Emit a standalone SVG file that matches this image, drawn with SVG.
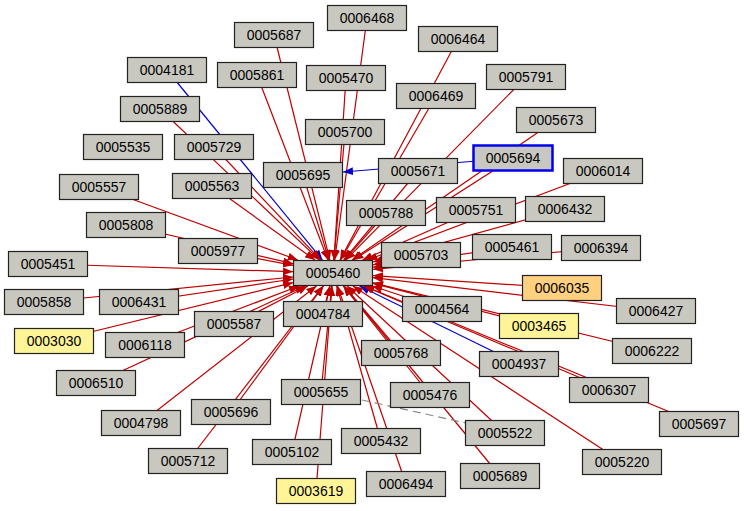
<svg xmlns="http://www.w3.org/2000/svg" width="744" height="511" viewBox="0 0 744 511">
<style>
.n rect{fill:#c8c8c0;stroke:#222;stroke-width:1.2}
.n text{font-family:"Liberation Sans",Arial,sans-serif;font-size:14px;text-anchor:middle;fill:#000}
.e line{stroke:#c00000;stroke-width:1.2;marker-end:url(#ar)}
.e line.b{stroke:#0000cc;marker-end:url(#ab)}
.e line.d{stroke:#888;stroke-dasharray:8,5;marker-end:none}
</style>
<defs>
<marker id="ar" markerWidth="10" markerHeight="8" refX="10" refY="4" orient="auto" markerUnits="userSpaceOnUse"><path d="M0,0L10,4L0,8z" fill="#c00000"/></marker>
<marker id="ab" markerWidth="10" markerHeight="8" refX="10" refY="4" orient="auto" markerUnits="userSpaceOnUse"><path d="M0,0L10,4L0,8z" fill="#0000cc"/></marker>
</defs>
<rect width="744" height="511" fill="#fff"/>
<g class="e" id="edges">
<line x1="367" y1="18" x2="334.7" y2="260"/>
<line x1="274" y1="35" x2="329.8" y2="260"/>
<line x1="458" y1="39" x2="340" y2="260"/>
<line class="b" x1="167" y1="70" x2="322.4" y2="260"/>
<line x1="257" y1="75" x2="328" y2="260"/>
<line x1="346" y1="78" x2="333.9" y2="260"/>
<line x1="526" y1="77" x2="345.8" y2="260"/>
<line x1="436" y1="96" x2="340.6" y2="260"/>
<line x1="160" y1="109" x2="319.3" y2="260"/>
<line x1="556" y1="120" x2="352" y2="260"/>
<line x1="345" y1="132" x2="334" y2="260"/>
<line x1="214" y1="147" x2="320.7" y2="260"/>
<line x1="513" y1="158" x2="353.3" y2="260"/>
<line x1="603" y1="171" x2="367.4" y2="260"/>
<line x1="303" y1="175" x2="329" y2="260"/>
<line x1="418" y1="171" x2="343.8" y2="260"/>
<line x1="212" y1="186" x2="315" y2="260"/>
<line x1="99" y1="187" x2="297.7" y2="260"/>
<line x1="386" y1="213" x2="344.5" y2="260"/>
<line x1="476" y1="210" x2="362.5" y2="260"/>
<line x1="565" y1="209" x2="373" y2="262"/>
<line x1="126" y1="225" x2="293" y2="263.7"/>
<line x1="218" y1="251" x2="293" y2="265.3"/>
<line x1="512" y1="247" x2="373" y2="267.2"/>
<line x1="601" y1="248" x2="373" y2="269.3"/>
<line x1="421" y1="255" x2="373" y2="264.8"/>
<line x1="48" y1="264" x2="293" y2="271.7"/>
<line x1="562" y1="288" x2="373" y2="275.6"/>
<line x1="44" y1="302" x2="293" y2="277"/>
<line x1="139" y1="302" x2="293" y2="279"/>
<line x1="656" y1="311" x2="373" y2="277.7"/>
<line x1="442" y1="309" x2="372.3" y2="286"/>
<line x1="323" y1="314" x2="329.8" y2="286"/>
<line x1="234" y1="324" x2="307.8" y2="286"/>
<line x1="539" y1="326" x2="373" y2="283.3"/>
<line x1="54" y1="341" x2="293" y2="282.7"/>
<line x1="145" y1="345" x2="299" y2="286"/>
<line x1="652" y1="351" x2="373" y2="282.8"/>
<line x1="401" y1="353" x2="344" y2="286"/>
<line class="b" x1="519" y1="364" x2="359.6" y2="286"/>
<line x1="96" y1="383" x2="305" y2="286"/>
<line x1="609" y1="390" x2="363.6" y2="286"/>
<line x1="321" y1="392" x2="331.7" y2="286"/>
<line x1="430" y1="395" x2="343.3" y2="286"/>
<line x1="141" y1="423" x2="316.4" y2="286"/>
<line x1="231" y1="412" x2="323.5" y2="286"/>
<line x1="699" y1="424" x2="364.5" y2="286"/>
<line x1="505" y1="433" x2="347" y2="286"/>
<line x1="381" y1="441" x2="336.7" y2="286"/>
<line x1="292" y1="452" x2="330" y2="286"/>
<line x1="622" y1="462" x2="352.9" y2="286"/>
<line x1="188" y1="461" x2="323" y2="286"/>
<line x1="316" y1="491" x2="332" y2="286"/>
<line x1="406" y1="484" x2="337.5" y2="286"/>
<line x1="500" y1="476" x2="343.7" y2="286"/>
<line class="b" x1="513" y1="158" x2="343" y2="172"/>
<line class="d" x1="362" y1="400" x2="466" y2="423"/>
</g>
<g class="n" id="n0006468" transform="translate(367,18)"><rect x="-39.5" y="-12.5" width="79" height="25"/><text y="5">0006468</text></g>
<g class="n" id="n0005687" transform="translate(274,35)"><rect x="-39.5" y="-12.5" width="79" height="25"/><text y="5">0005687</text></g>
<g class="n" id="n0006464" transform="translate(458,39)"><rect x="-39.5" y="-12.5" width="79" height="25"/><text y="5">0006464</text></g>
<g class="n" id="n0004181" transform="translate(167,70)"><rect x="-39.5" y="-12.5" width="79" height="25"/><text y="5">0004181</text></g>
<g class="n" id="n0005861" transform="translate(257,75)"><rect x="-39.5" y="-12.5" width="79" height="25"/><text y="5">0005861</text></g>
<g class="n" id="n0005470" transform="translate(346,78)"><rect x="-39.5" y="-12.5" width="79" height="25"/><text y="5">0005470</text></g>
<g class="n" id="n0005791" transform="translate(526,77)"><rect x="-39.5" y="-12.5" width="79" height="25"/><text y="5">0005791</text></g>
<g class="n" id="n0006469" transform="translate(436,96)"><rect x="-39.5" y="-12.5" width="79" height="25"/><text y="5">0006469</text></g>
<g class="n" id="n0005889" transform="translate(160,109)"><rect x="-39.5" y="-12.5" width="79" height="25"/><text y="5">0005889</text></g>
<g class="n" id="n0005673" transform="translate(556,120)"><rect x="-39.5" y="-12.5" width="79" height="25"/><text y="5">0005673</text></g>
<g class="n" id="n0005700" transform="translate(345,132)"><rect x="-39.5" y="-12.5" width="79" height="25"/><text y="5">0005700</text></g>
<g class="n" id="n0005535" transform="translate(123,147)"><rect x="-39.5" y="-12.5" width="79" height="25"/><text y="5">0005535</text></g>
<g class="n" id="n0005729" transform="translate(214,147)"><rect x="-39.5" y="-12.5" width="79" height="25"/><text y="5">0005729</text></g>
<g class="n" id="n0006014" transform="translate(603,171)"><rect x="-39.5" y="-12.5" width="79" height="25"/><text y="5">0006014</text></g>
<g class="n" id="n0005671" transform="translate(418,171)"><rect x="-39.5" y="-12.5" width="79" height="25"/><text y="5">0005671</text></g>
<g class="n" id="n0005695" transform="translate(303,175)"><rect x="-39.5" y="-12.5" width="79" height="25"/><text y="5">0005695</text></g>
<g class="n" id="n0005694" transform="translate(513,158)"><rect x="-39.5" y="-12.5" width="79" height="25" style="stroke:#0000ee;stroke-width:2.5"/><text y="5">0005694</text></g>
<g class="n" id="n0005557" transform="translate(99,187)"><rect x="-39.5" y="-12.5" width="79" height="25"/><text y="5">0005557</text></g>
<g class="n" id="n0005563" transform="translate(212,186)"><rect x="-39.5" y="-12.5" width="79" height="25"/><text y="5">0005563</text></g>
<g class="n" id="n0005788" transform="translate(386,213)"><rect x="-39.5" y="-12.5" width="79" height="25"/><text y="5">0005788</text></g>
<g class="n" id="n0005751" transform="translate(476,210)"><rect x="-39.5" y="-12.5" width="79" height="25"/><text y="5">0005751</text></g>
<g class="n" id="n0006432" transform="translate(565,209)"><rect x="-39.5" y="-12.5" width="79" height="25"/><text y="5">0006432</text></g>
<g class="n" id="n0005808" transform="translate(126,225)"><rect x="-39.5" y="-12.5" width="79" height="25"/><text y="5">0005808</text></g>
<g class="n" id="n0005977" transform="translate(218,251)"><rect x="-39.5" y="-12.5" width="79" height="25"/><text y="5">0005977</text></g>
<g class="n" id="n0005461" transform="translate(512,247)"><rect x="-39.5" y="-12.5" width="79" height="25"/><text y="5">0005461</text></g>
<g class="n" id="n0006394" transform="translate(601,248)"><rect x="-39.5" y="-12.5" width="79" height="25"/><text y="5">0006394</text></g>
<g class="n" id="n0005703" transform="translate(421,255)"><rect x="-39.5" y="-12.5" width="79" height="25"/><text y="5">0005703</text></g>
<g class="n" id="n0005451" transform="translate(48,264)"><rect x="-39.5" y="-12.5" width="79" height="25"/><text y="5">0005451</text></g>
<g class="n" id="n0006035" transform="translate(562,288)"><rect x="-39.5" y="-12.5" width="79" height="25" style="fill:#ffd080"/><text y="5">0006035</text></g>
<g class="n" id="n0005858" transform="translate(44,302)"><rect x="-39.5" y="-12.5" width="79" height="25"/><text y="5">0005858</text></g>
<g class="n" id="n0006431" transform="translate(139,302)"><rect x="-39.5" y="-12.5" width="79" height="25"/><text y="5">0006431</text></g>
<g class="n" id="n0006427" transform="translate(656,311)"><rect x="-39.5" y="-12.5" width="79" height="25"/><text y="5">0006427</text></g>
<g class="n" id="n0004564" transform="translate(442,309)"><rect x="-39.5" y="-12.5" width="79" height="25"/><text y="5">0004564</text></g>
<g class="n" id="n0004784" transform="translate(323,314)"><rect x="-39.5" y="-12.5" width="79" height="25"/><text y="5">0004784</text></g>
<g class="n" id="n0005587" transform="translate(234,324)"><rect x="-39.5" y="-12.5" width="79" height="25"/><text y="5">0005587</text></g>
<g class="n" id="n0003465" transform="translate(539,326)"><rect x="-39.5" y="-12.5" width="79" height="25" style="fill:#fff598"/><text y="5">0003465</text></g>
<g class="n" id="n0003030" transform="translate(54,341)"><rect x="-39.5" y="-12.5" width="79" height="25" style="fill:#fff598"/><text y="5">0003030</text></g>
<g class="n" id="n0006118" transform="translate(145,345)"><rect x="-39.5" y="-12.5" width="79" height="25"/><text y="5">0006118</text></g>
<g class="n" id="n0006222" transform="translate(652,351)"><rect x="-39.5" y="-12.5" width="79" height="25"/><text y="5">0006222</text></g>
<g class="n" id="n0005768" transform="translate(401,353)"><rect x="-39.5" y="-12.5" width="79" height="25"/><text y="5">0005768</text></g>
<g class="n" id="n0004937" transform="translate(519,364)"><rect x="-39.5" y="-12.5" width="79" height="25"/><text y="5">0004937</text></g>
<g class="n" id="n0006510" transform="translate(96,383)"><rect x="-39.5" y="-12.5" width="79" height="25"/><text y="5">0006510</text></g>
<g class="n" id="n0006307" transform="translate(609,390)"><rect x="-39.5" y="-12.5" width="79" height="25"/><text y="5">0006307</text></g>
<g class="n" id="n0005655" transform="translate(321,392)"><rect x="-39.5" y="-12.5" width="79" height="25"/><text y="5">0005655</text></g>
<g class="n" id="n0005476" transform="translate(430,395)"><rect x="-39.5" y="-12.5" width="79" height="25"/><text y="5">0005476</text></g>
<g class="n" id="n0004798" transform="translate(141,423)"><rect x="-39.5" y="-12.5" width="79" height="25"/><text y="5">0004798</text></g>
<g class="n" id="n0005696" transform="translate(231,412)"><rect x="-39.5" y="-12.5" width="79" height="25"/><text y="5">0005696</text></g>
<g class="n" id="n0005697" transform="translate(699,424)"><rect x="-39.5" y="-12.5" width="79" height="25"/><text y="5">0005697</text></g>
<g class="n" id="n0005522" transform="translate(505,433)"><rect x="-39.5" y="-12.5" width="79" height="25"/><text y="5">0005522</text></g>
<g class="n" id="n0005432" transform="translate(381,441)"><rect x="-39.5" y="-12.5" width="79" height="25"/><text y="5">0005432</text></g>
<g class="n" id="n0005102" transform="translate(292,452)"><rect x="-39.5" y="-12.5" width="79" height="25"/><text y="5">0005102</text></g>
<g class="n" id="n0005220" transform="translate(622,462)"><rect x="-39.5" y="-12.5" width="79" height="25"/><text y="5">0005220</text></g>
<g class="n" id="n0005712" transform="translate(188,461)"><rect x="-39.5" y="-12.5" width="79" height="25"/><text y="5">0005712</text></g>
<g class="n" id="n0003619" transform="translate(316,491)"><rect x="-39.5" y="-12.5" width="79" height="25" style="fill:#fff598"/><text y="5">0003619</text></g>
<g class="n" id="n0006494" transform="translate(406,484)"><rect x="-39.5" y="-12.5" width="79" height="25"/><text y="5">0006494</text></g>
<g class="n" id="n0005689" transform="translate(500,476)"><rect x="-39.5" y="-12.5" width="79" height="25"/><text y="5">0005689</text></g>
<g class="n" id="n0005460" transform="translate(333,273)"><rect x="-39.5" y="-12.5" width="79" height="25"/><text y="5">0005460</text></g>
</svg>
